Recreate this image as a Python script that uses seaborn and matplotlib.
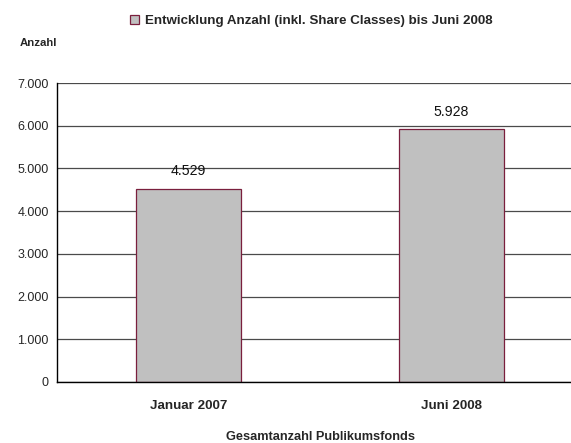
import matplotlib
matplotlib.use("Agg")
import matplotlib.pyplot as plt
import matplotlib.ticker as mticker
import seaborn as sns

# Chart data
categories = ["Januar 2007", "Juni 2008"]
values = [4529, 5928]
value_labels = ["4.529", "5.928"]
y_ticks = [0, 1000, 2000, 3000, 4000, 5000, 6000, 7000]
series_name = "Entwicklung Anzahl (inkl. Share Classes) bis Juni 2008"

sns.set_style("white")
plt.rcParams["font.family"] = ["Liberation Sans", "DejaVu Sans"]

fig = plt.figure(figsize=(5.71, 4.43), dpi=100)
# axis runs a little past the right edge, like the original export
ax = fig.add_axes([57 / 571, 61 / 443, 526 / 571, 299 / 443])

sns.barplot(x=categories, y=values, color="#C0C0C0", edgecolor="#7A1F3D",
            linewidth=0.9, width=0.4, saturation=1, label=series_name, ax=ax)

ax.set_ylim(0, 7000)
ax.set_xlim(-0.5, 1.5)
ax.set_yticks(y_ticks)
ax.yaxis.set_major_formatter(mticker.FuncFormatter(
    lambda v, p: f"{int(v):,}".replace(",", ".")))
ax.set_axisbelow(True)
ax.yaxis.grid(True, color="#4a4a4a", linewidth=0.9)
ax.xaxis.grid(False)

for s in ["top", "right"]:
    ax.spines[s].set_visible(False)
for s in ["left", "bottom"]:
    ax.spines[s].set_color("black")
    ax.spines[s].set_linewidth(1.0)

ax.tick_params(axis="y", which="major", direction="out", length=4, width=0.9,
               color="black", labelsize=9, pad=2)
ax.tick_params(axis="x", which="major", length=0, labelsize=9.6, pad=13)
ax.set_xticks([0.5], minor=True)
ax.tick_params(axis="x", which="minor", direction="out", length=4, width=0.9, color="black")
for lbl in ax.get_xticklabels():
    lbl.set_fontweight("bold")

for i, (v, t) in enumerate(zip(values, value_labels)):
    ax.text(i, v + 400, t, ha="center", va="center", fontsize=10.2, color="#111111")

ax.set_xlabel("Gesamtanzahl Publikumsfonds", fontsize=9.2, fontweight="bold", labelpad=14)
ax.set_ylabel("")
fig.text(20 / 571, 1 - 43 / 443, "Anzahl", fontsize=8.2, fontweight="bold", va="center")

if ax.legend_:
    ax.legend_.remove()
handles, labels = ax.get_legend_handles_labels()
fig.legend(handles, labels, loc="center left", bbox_to_anchor=(118 / 571, 1 - 21 / 443),
           frameon=False, prop={"weight": "bold", "size": 9.6},
           handlelength=0.7, handleheight=0.7, handletextpad=0.4)

fig.savefig("out.png", dpi=100)
